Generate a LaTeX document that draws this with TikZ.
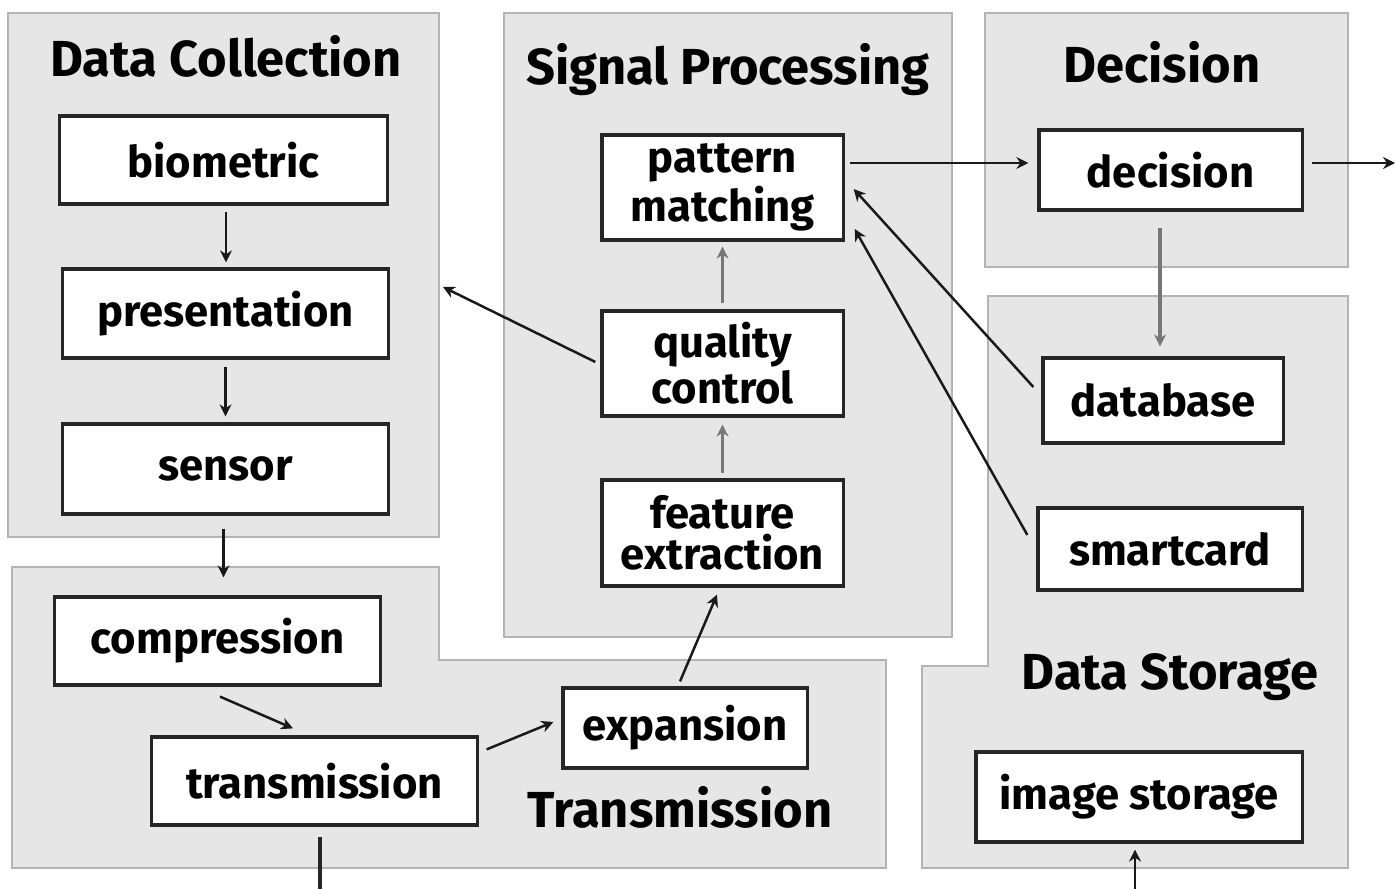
\documentclass[tikz,border=0pt]{standalone}
\usepackage{fontspec}
\setmainfont{Fira Sans}
\usetikzlibrary{arrows.meta, calc}
\definecolor{panelfill}{HTML}{E6E6E6}
\definecolor{paneledge}{HTML}{B4B4B4}
\definecolor{linkgray}{HTML}{777777}
\def \panelCollect{ (8,13) rectangle (439,537) }
\def \panelSignal{ (504,13) rectangle (952,637) }
\def \panelDecide{ (985,13) rectangle (1348,267) }
\def \panelStore{ (988,296) -- (1348,296) -- (1348,868) -- (922,868) -- (922,666) -- (988,666) -- cycle }
\def \panelTransmit{ (12,567) -- (439,567) -- (439,660) -- (886,660) -- (886,868) -- (12,868) -- cycle }
\tikzset{
  panel/.style={fill=panelfill, draw=paneledge, line width=0.8pt},
  stage/.style={draw=black!85, fill=white, line width=0.9pt, inner sep=0pt, align=center,
    font=\fontsize{12.4}{11.6}\selectfont\bfseries},
  heading/.style={anchor=base, inner sep=0pt, font=\fontsize{14.4}{16}\selectfont\bfseries},
  flow/.style={-{Stealth[length=3.4pt,width=3.4pt]}, line width=0.7pt, black!90},
  flowgray/.style={flow, linkgray, line width=0.9pt}
}
\begin{document}
\begin{tikzpicture}[x=0.01cm, y=-0.01cm]
\useasboundingbox (0,0) rectangle (1395,889);
\fill[white] (0,0) rectangle (1395,889);

\draw[panel] \panelCollect;
\draw[panel] \panelSignal;
\draw[panel] \panelDecide;
\draw[panel] \panelStore;
\draw[panel] \panelTransmit;

\node[heading] (tcollect) at (226,77) {Data Collection};
\node[heading] (tsignal) at (728,85) {Signal Processing};
\node[heading] (tdecide) at (1162,83) {Decision};
\node[heading] (tstore) at (1170,689) {Data Storage};
\node[heading] (ttransmit) at (680,827) {Transmission};

\node[stage, minimum width=3.27cm, minimum height=0.88cm] (bio) at (223.5,160) {biometric};
\node[stage, minimum width=3.25cm, minimum height=0.89cm] (pres) at (225.5,313.5) {presentation};
\node[stage, minimum width=3.25cm, minimum height=0.90cm] (sen) at (225.5,469) {sensor};
\node[stage, minimum width=3.25cm, minimum height=0.88cm] (comp) at (217.5,641) {compression};
\node[stage, minimum width=3.25cm, minimum height=0.88cm] (trans) at (314.5,781) {transmission};
\node[stage, minimum width=2.44cm, minimum height=0.80cm] (exp) at (685,728) {expansion};
\node[stage, minimum width=2.41cm, minimum height=1.06cm] (feat) at (722.5,533) {feature\\extraction};
\node[stage, minimum width=2.41cm, minimum height=1.05cm] (qc) at (722.5,363.5) {quality\\control};
\node[stage, minimum width=2.41cm, minimum height=1.05cm] (pm) at (722.5,187.5) {pattern\\matching};
\node[stage, minimum width=2.63cm, minimum height=0.80cm] (dec) at (1170.5,170) {decision};
\node[stage, minimum width=2.40cm, minimum height=0.85cm] (db) at (1163,400.5) {database};
\node[stage, minimum width=2.64cm, minimum height=0.82cm] (card) at (1170,549) {smartcard};
\node[stage, minimum width=3.26cm, minimum height=0.90cm] (img) at (1139,797) {image storage};

\coordinate (collect) at (443,287);
\coordinate (out) at (1395,163);
\coordinate (lost) at (320,889);
\coordinate (feed) at (1135,889);

\draw[flow] ($(bio.south)+(2.5,6)$) -- ($(pres.north)+(0.5,-5)$);
\draw[flow] ($(pres.south)+(0,7)$) -- ($(sen.north)+(0,-6)$);
\draw[flow] ($(sen.south)+(-2,13)$) -- ($(comp.north)+(6,-18)$);
\draw[flow] ($(comp.south)+(2.5,10)$) -- ($(trans.north)+(-21.5,-7)$);
\draw[flow] ($(trans.north east)+(8,14)$) -- ($(exp.west)+(-8,-6)$);
\draw[flow] ($(exp.north)+(-5,-5)$) -- ($(feat.south)+(-5.5,7)$);
\draw ($(trans.south)+(5.5,10)$) -- (lost) [line width=0.9pt, black!85];
\draw[flowgray] ($(feat.north)+(0,-5)$) -- ($(qc.south)+(0,7)$);
\draw[flowgray] ($(qc.north)+(0,-6)$) -- ($(pm.south)+(0,5)$);
\draw[flow] ($(qc.west)+(-5,-1.5)$) -- (collect);
\draw[flow] ($(pm.east)+(5,-24.5)$) -- ($(dec.west)+(-9,-7)$);
\draw[flow] ($(dec.east)+(8,-7)$) -- (out);
\draw[flowgray] ($(dec.south)+(-10.5,16)$) -- ($(db.north)+(-3,-10)$);
\draw[flow] ($(db.west)+(-8,-13.5)$) -- ($(pm.east)+(9,1.5)$);
\draw[flow] ($(card.west)+(-9,-14)$) -- ($(pm.east)+(10,41.5)$);
\draw[flow] (feed) -- ($(img.south)+(-4,6)$);
\end{tikzpicture}
\end{document}
